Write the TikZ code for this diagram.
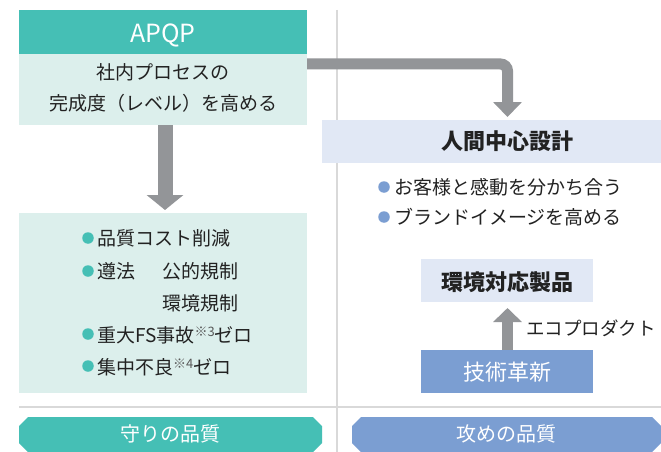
\documentclass[tikz,border=0pt]{standalone}
\usepackage{fontspec}
\setmainfont{Noto Sans CJK JP}
\usetikzlibrary{arrows.meta}
\definecolor{tealA}{HTML}{45BFB5}
\definecolor{tealL}{HTML}{DCEFEC}
\definecolor{blueA}{HTML}{7B9ED2}
\definecolor{blueL}{HTML}{E1E8F5}
\definecolor{arrg}{HTML}{939598}
\definecolor{sepg}{HTML}{D9D9D9}
\definecolor{txt}{HTML}{222222}
\tikzset{
  panel/.style={inner sep=0pt, outer sep=0pt, draw=none, anchor=north west},
  jp/.style={inner sep=0pt, text=txt, anchor=base, font=\fontsize{19}{19}\selectfont},
  jpw/.style={jp, anchor=base west},
  head/.style={inner sep=0pt, text=txt, anchor=base, font=\fontsize{22}{22}\selectfont\bfseries},
  dotT/.style={circle, fill=tealA, inner sep=0pt, minimum size=11.5pt},
  dotB/.style={circle, fill=blueA, inner sep=0pt, minimum size=11.5pt},
  bigarrow/.style={draw=arrg, line width=#1},
  sepline/.style={draw=sepg, line width=2pt},
}
\newcommand{\kome}[1]{{\color{txt!75}\fontsize{13}{13}\selectfont\raisebox{6pt}{※#1}}}
\begin{document}
\begin{tikzpicture}[x=1pt,y=-1pt]
\useasboundingbox (0,0) rectangle (661,452);
\fill[white] (0,0) rectangle (661,452);

% separators
\draw[sepline] (337,10) -- (337,452);
\draw[sepline, line width=1.6pt] (19,407) -- (661,407);

% left column
\node[panel, fill=tealA, minimum width=288pt, minimum height=44pt] (apqph) at (19,10) {};
\node[inner sep=0pt, anchor=base, text=white, font=\fontsize{25}{25}\selectfont] (apqpt) at (163,43) {APQP};
\node[panel, fill=tealL, minimum width=288pt, minimum height=71pt] (apqpb) at (19,54) {};
\node[jp] (l1) at (163,80) {社内プロセスの};
\node[jp] (l2) at (163,110) {完成度（レベル）を高める};

\node[panel, fill=tealL, minimum width=288pt, minimum height=180pt] (lbox) at (19,213) {};
\node[dotT] (d1) at (88,238) {};
\node[jpw] (b1) at (97,245) {品質コスト削減};
\node[dotT] (d2) at (88,271) {};
\node[jpw] (b2) at (97,278) {遵法};
\node[jpw] (b2a) at (162,278) {公的規制};
\node[jpw] (b3) at (162,310) {環境規制};
\node[dotT] (d4) at (88,334) {};
\node[jpw] (b4) at (97,342) {重大FS事故\kome{3}ゼロ};
\node[dotT] (d5) at (88,366) {};
\node[jpw] (b5) at (97,374) {集中不良\kome{4}ゼロ};

% right column
\node[panel, fill=blueL, minimum width=339pt, minimum height=43pt] (hcd) at (322,120) {};
\node[head] (hcdt) at (507,149.5) {人間中心設計};
\coordinate (hcdin) at (507.5,120);
\node[dotB] (rd1) at (384,187) {};
\node[jpw] (r1) at (394,194) {お客様と感動を分かち合う};
\node[dotB] (rd2) at (384,217) {};
\node[jpw] (r2) at (394,224) {ブランドイメージを高める};

\node[panel, fill=blueL, minimum width=172pt, minimum height=43pt] (eco) at (421,259) {};
\node[head] (ecot) at (507,290) {環境対応製品};
\node[panel, fill=blueA, minimum width=172pt, minimum height=43pt] (tech) at (421,350) {};
\node[head, text=white, font=\fontsize{22}{22}\selectfont] (techt) at (507,380) {技術革新};
\node[jpw, font=\fontsize{18.5}{18.5}\selectfont] (ecol) at (526,335) {エコプロダクト};

% arrows
\draw[bigarrow=15pt, -{Triangle[length=15pt,width=36pt]}, shorten >=3pt]
  ([xshift=2pt]apqpb.south) -- ([xshift=2pt]lbox.north);
\draw[bigarrow=11pt, rounded corners=7pt, -{Triangle[length=15pt,width=28pt]}, shorten >=3pt]
  ([yshift=-10pt]apqpb.north east) -| (hcdin);
\draw[bigarrow=11pt, -{Triangle[length=14pt,width=28pt]}, shorten >=6pt]
  ([xshift=0.5pt]tech.north) -- ([xshift=0.5pt]eco.south);

% bottom labels
\fill[tealA] (28,417) -- (313,417) -- (322,426) -- (322,443) -- (313,452) -- (28,452) -- (19,443) -- (19,426) -- cycle;
\node[inner sep=0pt, anchor=base, text=white, font=\fontsize{20}{20}\selectfont] (mamori) at (170.5,441.5) {守りの品質};
\fill[blueA] (361,417) -- (652,417) -- (661,426) -- (661,443) -- (652,452) -- (361,452) -- (352,443) -- (352,426) -- cycle;
\node[inner sep=0pt, anchor=base, text=white, font=\fontsize{20}{20}\selectfont] (seme) at (506.5,441.5) {攻めの品質};
\end{tikzpicture}
\end{document}
